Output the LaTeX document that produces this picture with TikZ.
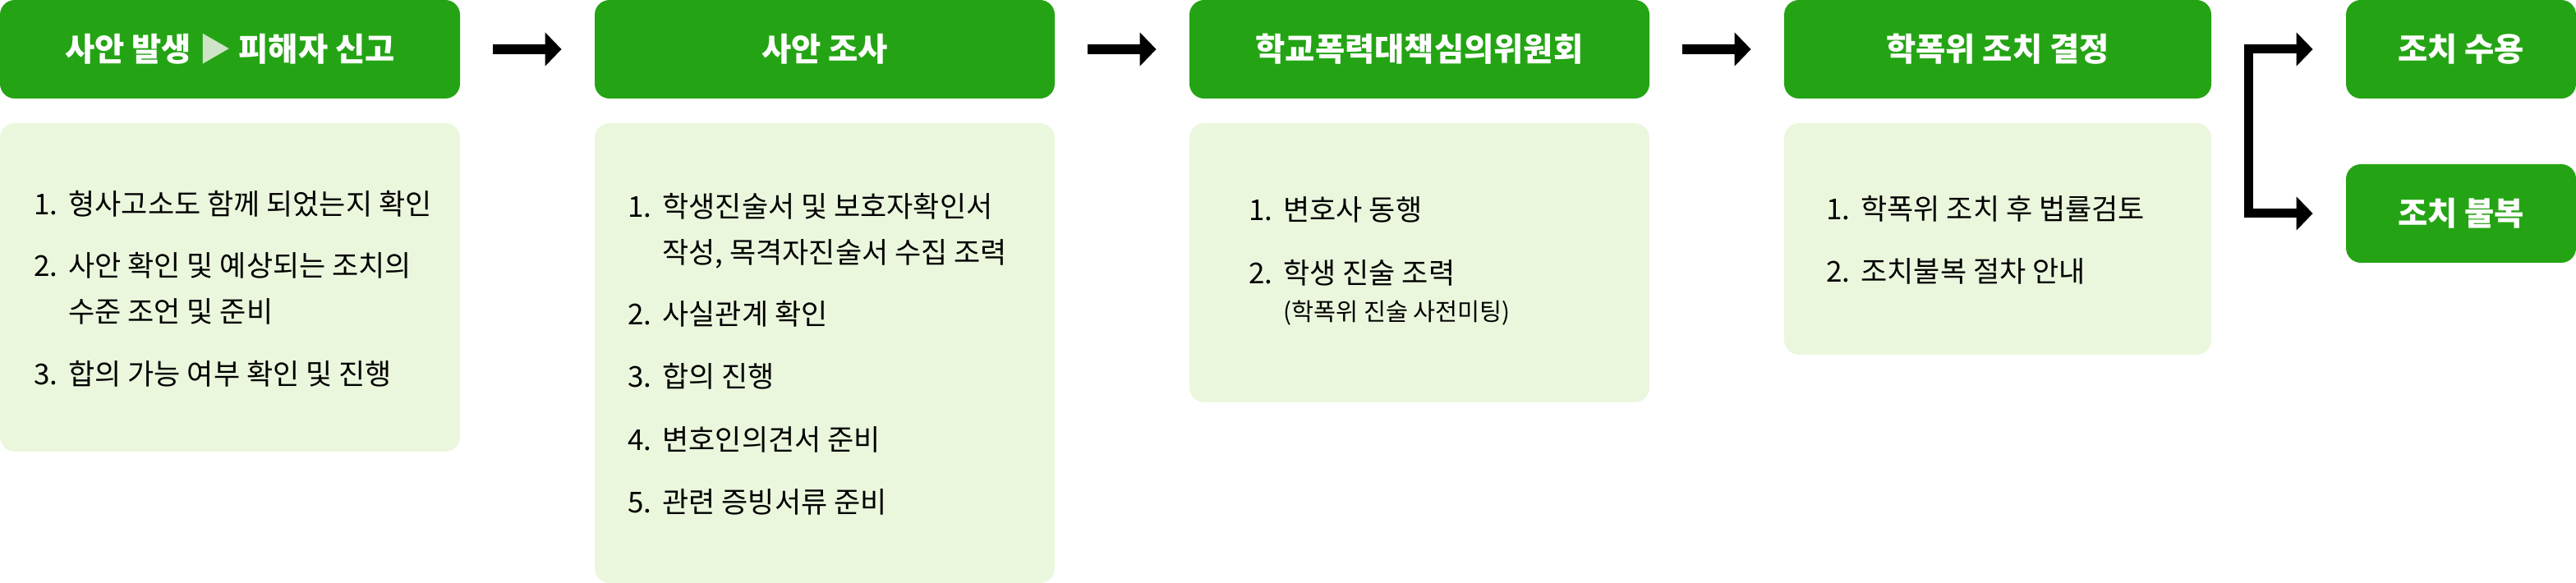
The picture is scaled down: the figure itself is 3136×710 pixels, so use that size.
\documentclass[tikz,border=0pt]{standalone}
\usepackage{fontspec}
\setmainfont{Noto Sans CJK KR}
\usetikzlibrary{arrows.meta}
\definecolor{hdgreen}{HTML}{24A414}
\definecolor{paleg}{HTML}{EBF7DD}
\definecolor{trigreen}{HTML}{CFE3C6}
\newcommand{\itemno}[1]{\makebox[21pt][l]{#1}}
\begin{document}
\begin{tikzpicture}[x=0.5pt, y=-0.5pt, every node/.style={font=\fontsize{17.5}{21}\selectfont}]
  \tikzstyle{head}=[fill=hdgreen,rounded corners=9pt,minimum width=280pt,minimum height=60pt,inner sep=0pt,text=white,font=\fontsize{19.7}{23}\selectfont\bfseries]
  \tikzstyle{panel}=[fill=paleg,rounded corners=9pt,minimum width=280pt,inner sep=0pt]
  \tikzstyle{line}=[anchor=base west,inner sep=0pt]
  \tikzstyle{flow}=[-{Triangle[length=10pt,width=20pt]},line width=6pt,shorten <=20pt,shorten >=20pt]
  \tikzstyle{branch}=[-{Triangle[length=10pt,width=20pt]},line width=5.5pt,shorten >=20pt]
  \useasboundingbox (0,0) rectangle (3136,710);
  % step headers
  \node[head] (h1) at (280,60) {사안 발생 {\color{trigreen}▶} 피해자 신고};
  \node[head] (h2) at (1004,60) {사안 조사};
  \node[head] (h3) at (1728,60) {학교폭력대책심의위원회};
  \node[head,minimum width=260pt] (h4) at (2432,60) {학폭위 조치 결정};
  \node[head,minimum width=140pt] (acc) at (2996,60) {조치 수용};
  \node[head,minimum width=140pt] (app) at (2996,260) {조치 불복};
  % detail panels
  \node[panel,minimum height=200pt] (p1) at (280,350) {};
  \node[panel,minimum height=280pt] (p2) at (1004,430) {};
  \node[panel,minimum height=170pt] (p3) at (1728,320) {};
  \node[panel,minimum width=260pt,minimum height=141pt] (p4) at (2432,291) {};
  % panel 1
  \node[line] (t11) at (41,262) {\itemno{1.}형사고소도 함께 되었는지 확인};
  \node[line] (t12) at (41,337) {\itemno{2.}사안 확인 및 예상되는 조치의};
  \node[line] (t12b) at (83,393) {수준 조언 및 준비};
  \node[line] (t13) at (41,469) {\itemno{3.}합의 가능 여부 확인 및 진행};
  % panel 2
  \node[line] (t21) at (764,265) {\itemno{1.}학생진술서 및 보호자확인서};
  \node[line] (t21b) at (806,321) {작성, 목격자진술서 수집 조력};
  \node[line] (t22) at (764,396) {\itemno{2.}사실관계 확인};
  \node[line] (t23) at (764,472) {\itemno{3.}합의 진행};
  \node[line] (t24) at (764,548) {\itemno{4.}변호인의견서 준비};
  \node[line] (t25) at (764,624) {\itemno{5.}관련 증빙서류 준비};
  % panel 3
  \node[line] (t31) at (1520,269) {\itemno{1.}변호사 동행};
  \node[line] (t32) at (1520,346) {\itemno{2.}학생 진술 조력};
  \node[line,font=\fontsize{14.7}{17}\selectfont] (t32b) at (1562,391) {(학폭위 진술 사전미팅)};
  % panel 4
  \node[line] (t41) at (2223,268) {\itemno{1.}학폭위 조치 후 법률검토};
  \node[line] (t42) at (2223,344) {\itemno{2.}조치불복 절차 안내};
  % arrows
  \draw[flow] (h1) -- (h2);
  \draw[flow] (h2) -- (h3);
  \draw[flow] (h3) -- (h4);
  \coordinate (fork) at (2737,160);
  \draw[branch] (fork) |- (acc);
  \draw[branch] (fork) |- (app);
\end{tikzpicture}
\end{document}
